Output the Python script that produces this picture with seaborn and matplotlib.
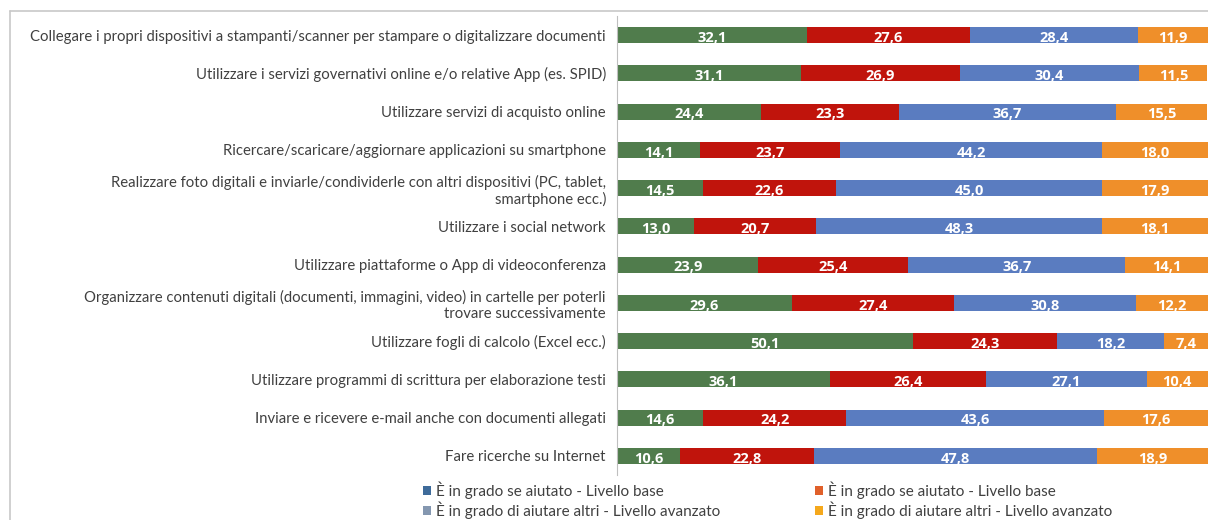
import numpy as np
import pandas as pd
import matplotlib
matplotlib.use("Agg")
import matplotlib.pyplot as plt
from matplotlib.lines import Line2D
from matplotlib.patches import Patch
import seaborn as sns

# categories, top to bottom
activities = [
    "Collegare i propri dispositivi a stampanti/scanner per stampare o digitalizzare documenti",
    "Utilizzare i servizi governativi online e/o relative App (es. SPID)",
    "Utilizzare servizi di acquisto online",
    "Ricercare/scaricare/aggiornare applicazioni su smartphone",
    "Realizzare foto digitali e inviarle/condividerle con altri dispositivi (PC, tablet,\nsmartphone ecc.)",
    "Utilizzare i social network",
    "Utilizzare piattaforme o App di videoconferenza",
    "Organizzare contenuti digitali (documenti, immagini, video) in cartelle per poterli\ntrovare successivamente",
    "Utilizzare fogli di calcolo (Excel ecc.)",
    "Utilizzare programmi di scrittura per elaborazione testi",
    "Inviare e ricevere e-mail anche con documenti allegati",
    "Fare ricerche su Internet",
]

green = [32.1, 31.1, 24.4, 14.1, 14.5, 13.0, 23.9, 29.6, 50.1, 36.1, 14.6, 10.6]
red = [27.6, 26.9, 23.3, 23.7, 22.6, 20.7, 25.4, 27.4, 24.3, 26.4, 24.2, 22.8]
blue = [28.4, 30.4, 36.7, 44.2, 45.0, 48.3, 36.7, 30.8, 18.2, 27.1, 43.6, 47.8]
orange = [11.9, 11.5, 15.5, 18.0, 17.9, 18.1, 14.1, 12.2, 7.4, 10.4, 17.6, 18.9]

legend_labels = [
    "È in grado se aiutato - Livello base",
    "È in grado di aiutare altri - Livello avanzato",
    "È in grado se aiutato - Livello base",
    "È in grado di aiutare altri - Livello avanzato",
]

sns.set_style("white")
plt.rcParams["font.family"] = ["Lato", "DejaVu Sans"]

series = [green, red, blue, orange]
bar_colors = ["#507C4C", "#C0140C", "#5A7CC0", "#EF8F2A"]
legend_colors = ["#3E6B9A", "#8497B0", "#E0602A", "#F5A81C"]

cum = np.zeros(len(activities))
cums = []
for s in series:
    cum = cum + np.array(s)
    cums.append(cum.copy())

fig = plt.figure(figsize=(12.08, 5.2), dpi=100)
ax = fig.add_axes([617 / 1208, 1 - 475 / 520, 1 - 617 / 1208, (475 - 16) / 520])

# stacked bars: draw the largest cumulative first, then overlap
for c, col in reversed(list(zip(cums, bar_colors))):
    sns.barplot(x=c, y=activities, orient="h", color=col, width=0.42,
                saturation=1, ax=ax, edgecolor="none")

# value labels
for s, c in zip(series, cums):
    for i, (v, end) in enumerate(zip(s, c)):
        ax.text(end - v / 2, i + 0.07, f"{v:.1f}".replace(".", ","),
                ha="center", va="center", color="white",
                fontsize=10.5, fontweight="bold",
                family=["Open Sans", "DejaVu Sans"])

ax.set_xlim(0, 100)
ax.set_ylim(11.5, -0.5)
ax.set_xlabel("")
ax.set_ylabel("")
ax.set_xticks([])
for sp in ["top", "right", "bottom"]:
    ax.spines[sp].set_visible(False)
ax.spines["left"].set_color("#BFBFBF")
ax.tick_params(axis="y", length=0, pad=8, labelsize=10.7, labelcolor="#404040")

# legend, two columns placed separately
for k, x0 in enumerate([409 / 1208, 801 / 1208]):
    hs = [Patch(facecolor=c, edgecolor="none") for c in legend_colors[2 * k:2 * k + 2]]
    fig.legend(hs, legend_labels[2 * k:2 * k + 2], ncol=1, loc="lower left",
               bbox_to_anchor=(x0, -0.024), frameon=False,
               fontsize=11, labelcolor="#404040", handlelength=0.55,
               handleheight=0.55, handletextpad=0.3, labelspacing=0.15)

# chart frame
fig.add_artist(Line2D([10 / 1208, 1], [1 - 11 / 520] * 2, color="#C8C8C8", lw=1.2))
fig.add_artist(Line2D([10 / 1208] * 2, [0, 1 - 11 / 520], color="#C8C8C8", lw=1.2))

fig.savefig("out.png", dpi=100)
